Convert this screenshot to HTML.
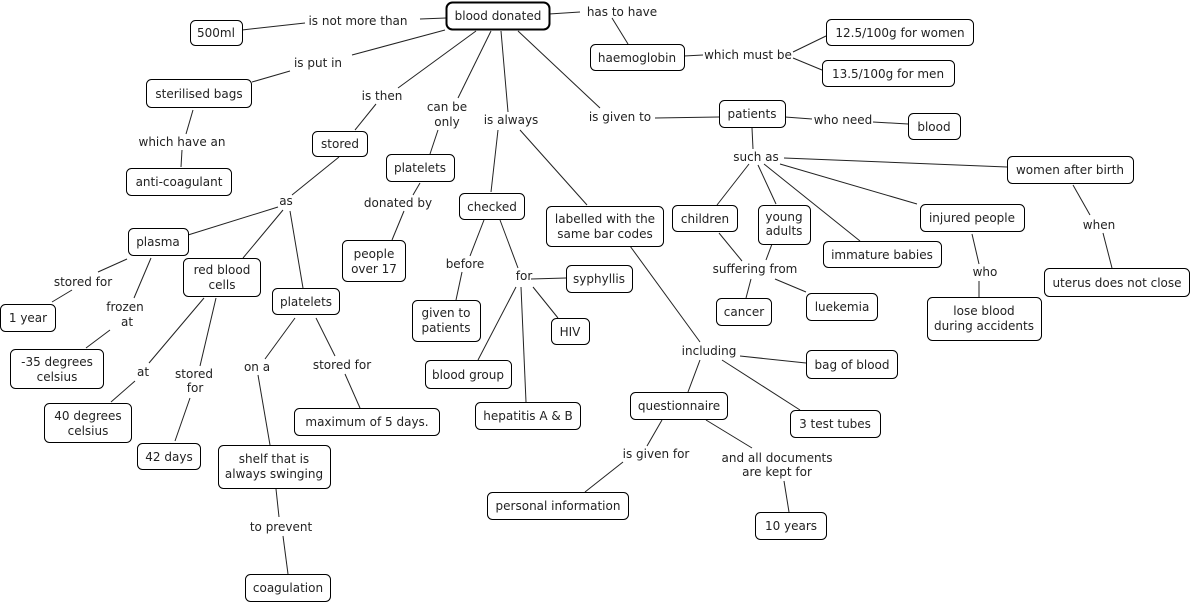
<!DOCTYPE html>
<html><head><meta charset="utf-8"><style>
html,body{margin:0;padding:0;background:#fff;}
svg{display:block;}
text{font-family:"DejaVu Sans","Liberation Sans",sans-serif;font-size:12px;fill:#222;text-anchor:middle;}
rect{fill:#fff;stroke:#000;stroke-width:1;}
line{stroke:#222;stroke-width:1;}
</style></head><body>
<svg width="1192" height="604" viewBox="0 0 1192 604" xmlns="http://www.w3.org/2000/svg">
<g>
<line x1="446" y1="18" x2="420" y2="19"/><line x1="305" y1="23" x2="242" y2="30"/>
<line x1="549" y1="14" x2="580" y2="12"/><line x1="612" y1="18" x2="628" y2="44"/>
<line x1="684" y1="56" x2="703" y2="55"/><line x1="793" y1="52" x2="826" y2="36"/><line x1="793" y1="58" x2="822" y2="70"/>
<line x1="445" y1="30" x2="352" y2="55"/><line x1="290" y1="71" x2="252" y2="82"/>
<line x1="193" y1="110" x2="186" y2="134"/><line x1="182" y1="150" x2="181" y2="167"/>
<line x1="476" y1="31" x2="398" y2="88"/><line x1="376" y1="104" x2="355" y2="130"/>
<line x1="491" y1="31" x2="458" y2="98"/><line x1="438" y1="130" x2="430" y2="154"/>
<line x1="501" y1="31" x2="508" y2="112"/><line x1="498" y1="130" x2="491" y2="192"/>
<line x1="518" y1="31" x2="600" y2="108"/><line x1="655" y1="118" x2="719" y2="117"/>
<line x1="520" y1="130" x2="587" y2="205"/>
<line x1="785" y1="117" x2="812" y2="119"/><line x1="873" y1="122" x2="908" y2="124"/>
<line x1="752" y1="128" x2="753" y2="149"/>
<line x1="784" y1="158" x2="1007" y2="167"/><line x1="749" y1="164" x2="717" y2="205"/>
<line x1="758" y1="165" x2="776" y2="204"/><line x1="764" y1="164" x2="860" y2="241"/>
<line x1="780" y1="164" x2="917" y2="204"/>
<line x1="1073" y1="185" x2="1090" y2="215"/><line x1="1103" y1="233" x2="1112" y2="268"/>
<line x1="339" y1="157" x2="292" y2="195"/><line x1="278" y1="207" x2="188" y2="235"/>
<line x1="283" y1="210" x2="243" y2="258"/><line x1="290" y1="211" x2="303" y2="288"/>
<line x1="420" y1="183" x2="413" y2="195"/><line x1="404" y1="211" x2="392" y2="240"/>
<line x1="484" y1="220" x2="470" y2="256"/><line x1="462" y1="272" x2="456" y2="300"/>
<line x1="500" y1="220" x2="518" y2="268"/><line x1="531" y1="279" x2="566" y2="278"/>
<line x1="533" y1="287" x2="558" y2="318"/><line x1="521" y1="287" x2="526" y2="402"/>
<line x1="516" y1="287" x2="478" y2="360"/>
<line x1="719" y1="233" x2="742" y2="261"/><line x1="772" y1="244" x2="766" y2="260"/>
<line x1="751" y1="279" x2="746" y2="298"/><line x1="775" y1="279" x2="806" y2="292"/>
<line x1="972" y1="234" x2="979" y2="264"/><line x1="979" y1="281" x2="979" y2="297"/>
<line x1="630" y1="246" x2="700" y2="342"/><line x1="740" y1="356" x2="806" y2="363"/>
<line x1="722" y1="360" x2="800" y2="410"/><line x1="700" y1="360" x2="688" y2="392"/>
<line x1="662" y1="420" x2="647" y2="446"/><line x1="623" y1="462" x2="585" y2="492"/>
<line x1="706" y1="420" x2="752" y2="448"/><line x1="784" y1="481" x2="789" y2="512"/>
<line x1="127" y1="259" x2="98" y2="272"/><line x1="72" y1="290" x2="52" y2="302"/>
<line x1="151" y1="258" x2="134" y2="298"/><line x1="110" y1="330" x2="86" y2="348"/>
<line x1="204" y1="298" x2="149" y2="363"/><line x1="135" y1="381" x2="111" y2="402"/>
<line x1="216" y1="298" x2="200" y2="366"/><line x1="190" y1="398" x2="175" y2="441"/>
<line x1="295" y1="318" x2="265" y2="359"/><line x1="258" y1="375" x2="270" y2="445"/>
<line x1="316" y1="318" x2="335" y2="356"/><line x1="345" y1="374" x2="360" y2="408"/>
<line x1="276" y1="489" x2="279" y2="517"/><line x1="283" y1="536" x2="288" y2="574"/>
</g>
<g>
<rect x="446.5" y="2.5" width="103" height="27" rx="6" style="stroke-width:2"/><text x="498" y="20">blood donated</text>
<rect x="190.5" y="20.5" width="52" height="25" rx="5"/><text x="216" y="37">500ml</text>
<rect x="590.5" y="44.5" width="94" height="26" rx="5"/><text x="637" y="62">haemoglobin</text>
<rect x="826.5" y="19.5" width="147" height="26" rx="5"/><text x="900" y="37">12.5/100g for women</text>
<rect x="822.5" y="60.5" width="132" height="26" rx="5"/><text x="888" y="78">13.5/100g for men</text>
<rect x="146.5" y="79.5" width="105" height="28" rx="5"/><text x="199" y="98">sterilised bags</text>
<rect x="126.5" y="168.5" width="105" height="27" rx="5"/><text x="179" y="186">anti-coagulant</text>
<rect x="312.5" y="131.5" width="55" height="25" rx="5"/><text x="340" y="148">stored</text>
<rect x="386.5" y="154.5" width="68" height="27" rx="5"/><text x="420" y="172">platelets</text>
<rect x="719.5" y="100.5" width="66" height="27" rx="5"/><text x="752" y="118">patients</text>
<rect x="908.5" y="113.5" width="52" height="26" rx="5"/><text x="934" y="131">blood</text>
<rect x="1007.5" y="156.5" width="126" height="27" rx="5"/><text x="1070" y="174">women after birth</text>
<rect x="459.5" y="193.5" width="65" height="26" rx="5"/><text x="492" y="211">checked</text>
<rect x="546.5" y="206.5" width="117" height="40" rx="5"/><text x="605" y="223">labelled with the</text><text x="605" y="238">same bar codes</text>
<rect x="672.5" y="205.5" width="65" height="26" rx="5"/><text x="705" y="223">children</text>
<rect x="758.5" y="205.5" width="52" height="39" rx="5"/><text x="784" y="221">young</text><text x="784" y="235">adults</text>
<rect x="920.5" y="204.5" width="104" height="27" rx="5"/><text x="972" y="222">injured people</text>
<rect x="823.5" y="241.5" width="118" height="26" rx="5"/><text x="882" y="259">immature babies</text>
<rect x="128.5" y="228.5" width="60" height="27" rx="5"/><text x="158" y="246">plasma</text>
<rect x="183.5" y="258.5" width="77" height="38" rx="5"/><text x="222" y="274">red blood</text><text x="222" y="289">cells</text>
<rect x="272.5" y="288.5" width="67" height="26" rx="5"/><text x="306" y="306">platelets</text>
<rect x="342.5" y="240.5" width="63" height="41" rx="5"/><text x="374" y="258">people</text><text x="374" y="273">over 17</text>
<rect x="566.5" y="265.5" width="66" height="27" rx="5"/><text x="599" y="283">syphyllis</text>
<rect x="1044.5" y="268.5" width="145" height="28" rx="5"/><text x="1117" y="287">uterus does not close</text>
<rect x="0.5" y="304.5" width="55" height="27" rx="5"/><text x="28" y="322">1 year</text>
<rect x="412.5" y="300.5" width="68" height="41" rx="5"/><text x="446" y="317">given to</text><text x="446" y="332">patients</text>
<rect x="551.5" y="318.5" width="38" height="26" rx="5"/><text x="570" y="336">HIV</text>
<rect x="716.5" y="298.5" width="55" height="27" rx="5"/><text x="744" y="316">cancer</text>
<rect x="806.5" y="293.5" width="71" height="27" rx="5"/><text x="842" y="311">luekemia</text>
<rect x="927.5" y="297.5" width="114" height="43" rx="5"/><text x="984" y="315">lose blood</text><text x="984" y="330">during accidents</text>
<rect x="10.5" y="349.5" width="93" height="39" rx="5"/><text x="57" y="366">-35 degrees</text><text x="57" y="381">celsius</text>
<rect x="806.5" y="350.5" width="91" height="28" rx="5"/><text x="852" y="369">bag of blood</text>
<rect x="425.5" y="360.5" width="86" height="28" rx="5"/><text x="468" y="379">blood group</text>
<rect x="44.5" y="403.5" width="87" height="39" rx="5"/><text x="88" y="420">40 degrees</text><text x="88" y="435">celsius</text>
<rect x="630.5" y="392.5" width="97" height="27" rx="5"/><text x="679" y="410">questionnaire</text>
<rect x="294.5" y="408.5" width="145" height="27" rx="5"/><text x="367" y="426">maximum of 5 days.</text>
<rect x="475.5" y="402.5" width="105" height="27" rx="5"/><text x="528" y="420">hepatitis A &amp; B</text>
<rect x="790.5" y="410.5" width="90" height="27" rx="5"/><text x="835" y="428">3 test tubes</text>
<rect x="137.5" y="443.5" width="63" height="26" rx="5"/><text x="169" y="461">42 days</text>
<rect x="218.5" y="445.5" width="112" height="43" rx="5"/><text x="274" y="463">shelf that is</text><text x="274" y="478">always swinging</text>
<rect x="487.5" y="492.5" width="141" height="27" rx="5"/><text x="558" y="510">personal information</text>
<rect x="755.5" y="512.5" width="71" height="27" rx="5"/><text x="791" y="530">10 years</text>
<rect x="245.5" y="574.5" width="85" height="27" rx="5"/><text x="288" y="592">coagulation</text>
</g>
<g>
<text x="358" y="25">is not more than</text>
<text x="622" y="16">has to have</text>
<text x="748" y="59">which must be</text>
<text x="318" y="67">is put in</text>
<text x="182" y="146">which have an</text>
<text x="382" y="100">is then</text>
<text x="447" y="111">can be</text><text x="447" y="126">only</text>
<text x="511" y="124">is always</text>
<text x="620" y="121">is given to</text>
<text x="843" y="124">who need</text>
<text x="756" y="161">such as</text>
<text x="286" y="205">as</text>
<text x="398" y="207">donated by</text>
<text x="465" y="268">before</text>
<text x="524" y="280">for</text>
<text x="1099" y="229">when</text>
<text x="755" y="273">suffering from</text>
<text x="985" y="276">who</text>
<text x="83" y="286">stored for</text>
<text x="125" y="311">frozen</text><text x="127" y="326">at</text>
<text x="143" y="376">at</text>
<text x="194" y="378">stored</text><text x="195" y="392">for</text>
<text x="257" y="371">on a</text>
<text x="342" y="369">stored for</text>
<text x="709" y="355">including</text>
<text x="656" y="458">is given for</text>
<text x="777" y="462">and all documents</text><text x="777" y="476">are kept for</text>
<text x="281" y="531">to prevent</text>
</g>
</svg>
</body></html>
